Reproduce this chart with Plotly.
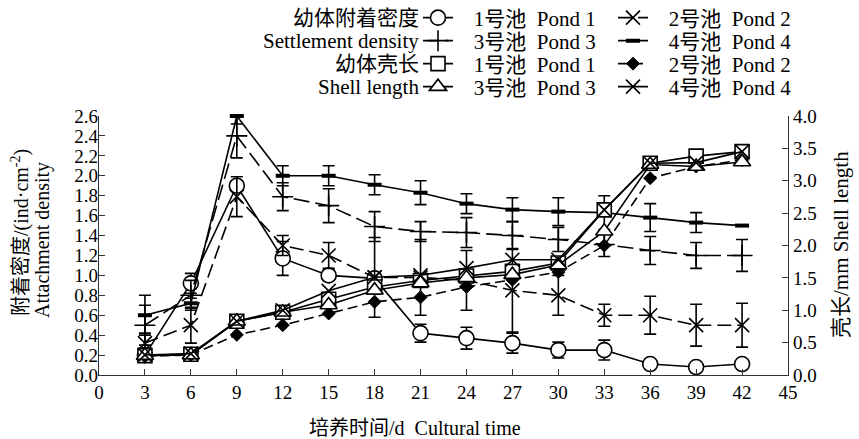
import plotly.graph_objects as go

# ---------------- data ----------------
days = [3, 6, 9, 12, 15, 18, 21, 24, 27, 30, 33, 36, 39, 42]
x_ticks = list(range(0, 46, 3))

dens_p1 = [0.20, 0.92, 1.90, 1.17, 1.00, 0.97, 0.42, 0.37, 0.32, 0.25, 0.25, 0.11, 0.08, 0.11]
dens_p1_err = [0.05, 0.10, 0.05, 0.17, 0.05, 0.05, 0.09, 0.11, 0.10, 0.08, 0.10, 0.0, 0.0, 0.0]
dens_p2 = [0.32, 0.50, 1.79, 1.30, 1.20, 0.98, 0.98, 0.95, 0.85, 0.80, 0.60, 0.60, 0.50, 0.50]
dens_p2_err = [0.10, 0.18, 0.20, 0.10, 0.13, 0.40, 0.38, 0.30, 0.42, 0.20, 0.11, 0.19, 0.21, 0.22]
dens_p3 = [0.50, 0.80, 2.40, 1.79, 1.70, 1.49, 1.44, 1.43, 1.40, 1.36, 1.31, 1.25, 1.20, 1.20]
dens_p3_err = [0.20, 0.15, 0.22, 0.14, 0.17, 0.15, 0.10, 0.15, 0.14, 0.12, 0.12, 0.14, 0.13, 0.16]
dens_p4 = [0.60, 0.72, 2.60, 2.00, 2.00, 1.91, 1.83, 1.72, 1.66, 1.64, 1.63, 1.58, 1.53, 1.50]
dens_p4_err = [0.20, 0.05, 0.08, 0.10, 0.10, 0.10, 0.12, 0.10, 0.12, 0.14, 0.17, 0.14, 0.10, 0.0]

shell_p1 = [0.30, 0.32, 0.83, 0.97, 1.17, 1.36, 1.46, 1.53, 1.60, 1.73, 2.55, 3.27, 3.38, 3.45]
shell_p2 = [0.29, 0.31, 0.62, 0.77, 0.95, 1.13, 1.20, 1.36, 1.47, 1.59, 2.00, 3.04, 3.22, 3.32]
shell_p3 = [0.30, 0.31, 0.83, 0.97, 1.08, 1.31, 1.42, 1.50, 1.55, 1.70, 2.22, 3.25, 3.22, 3.29]
shell_p4 = [0.31, 0.33, 0.83, 1.00, 1.30, 1.51, 1.54, 1.65, 1.78, 1.78, 2.55, 3.27, 3.28, 3.45]

NB = "\u00a0"
pond_names = [f"{NB*3}1号池{NB*2}Pond{NB}1", f"{NB*3}2号池{NB*2}Pond{NB}2",
              f"{NB*3}3号池{NB*2}Pond{NB}3", f"{NB*3}4号池{NB*2}Pond{NB}4"]
row_labels = ["幼体附着密度", "Settlement density", "幼体壳长", "Shell length"]
x_title = "培养时间/d\u00a0\u00a0Cultural time"
y_title_lines = ["附着密度/(ind·cm<sup>-2</sup>)", "Attachment density"]
y2_title = "壳长/mm Shell length"

# ---------------- layout helpers ----------------
W, H = 859, 439
L, R, T, B = 99, 788, 116, 375
FONT = "Liberation Serif, Noto Sans CJK SC, serif"
FS = 19
LFS = 21
LW = 1.6


def fx(px):
    return (px - L) / (R - L)


def fy(py):
    return (B - py) / (B - T)


fig = go.Figure()

row_y = [18, 41, 64, 87]
col_x = [418, 613]

dens_specs = [
    (dens_p1, dens_p1_err, pond_names[0], dict(symbol="circle", size=15, color="white", line=dict(color="black", width=LW)), "solid", (0, 0)),
    (dens_p2, dens_p2_err, pond_names[1], dict(symbol="x-thin-open", size=14, color="black", line=dict(color="black", width=LW)), "14px,6px", (0, 1)),
    (dens_p3, dens_p3_err, pond_names[2], dict(symbol="cross-thin-open", size=15, color="black", line=dict(color="black", width=LW)), "16px,6px", (1, 0)),
    (dens_p4, dens_p4_err, pond_names[3], dict(symbol="line-ew-open", size=10, color="black", line=dict(color="black", width=4)), "solid", (1, 1)),
]
shell_specs = [
    (shell_p1, pond_names[0], dict(symbol="square", size=14, color="white", line=dict(color="black", width=LW)), "solid", (2, 0)),
    (shell_p2, pond_names[1], dict(symbol="diamond", size=10, color="black", line=dict(color="black", width=1)), "10px,5px", (2, 1)),
    (shell_p3, pond_names[2], dict(symbol="triangle-up", size=15, color="white", line=dict(color="black", width=LW)), "solid", (3, 0)),
    (shell_p4, pond_names[3], dict(symbol="x-thin-open", size=14, color="black", line=dict(color="black", width=LW)), "solid", (3, 1)),
]

legends = {}
counter = [0]


def legend_key(rc):
    counter[0] += 1
    n = counter[0]
    key = "legend" if n == 1 else f"legend{n}"
    r, c = rc
    legends[key] = dict(
        x=fx(col_x[c]), y=fy(row_y[r]), xanchor="left", yanchor="middle",
        orientation="h", bgcolor="rgba(0,0,0,0)", borderwidth=0,
        font=dict(family=FONT, size=LFS, color="black"), itemwidth=30,
    )
    return key


for vals, err, name, marker, dash, rc in dens_specs:
    key = legend_key(rc)
    fig.add_trace(go.Scatter(
        x=days, y=vals, name=name, mode="lines+markers", yaxis="y",
        line=dict(color="black", width=LW, dash=dash), marker=marker,
        error_y=dict(type="data", array=err, visible=True, color="black", thickness=LW, width=6),
        legend=key, cliponaxis=False, showlegend=True,
    ))

for vals, name, marker, dash, rc in shell_specs:
    key = legend_key(rc)
    fig.add_trace(go.Scatter(
        x=days, y=vals, name=name, mode="lines+markers", yaxis="y2",
        line=dict(color="black", width=LW, dash=dash), marker=marker,
        legend=key, cliponaxis=False, showlegend=True,
    ))

annotations = []
for lab, ry in zip(row_labels, row_y):
    annotations.append(dict(text=lab, x=fx(421), y=fy(ry), xref="paper", yref="paper",
                            xanchor="right", yanchor="middle", showarrow=False,
                            font=dict(family=FONT, size=LFS, color="black")))
annotations.append(dict(text=x_title, x=fx(415), y=fy(428), xref="paper", yref="paper",
                        xanchor="center", yanchor="middle", showarrow=False,
                        font=dict(family=FONT, size=20, color="black")))
for txt, cx, cy in zip(y_title_lines, [20, 42], [233, 240]):
    annotations.append(dict(text=txt, x=fx(cx), y=fy(cy), xref="paper", yref="paper",
                            xanchor="center", yanchor="middle", showarrow=False, textangle=-90,
                            font=dict(family=FONT, size=20, color="black")))
annotations.append(dict(text=y2_title, x=fx(841), y=fy(245), xref="paper", yref="paper",
                        xanchor="center", yanchor="middle", showarrow=False, textangle=-90,
                        font=dict(family=FONT, size=21, color="black")))

axis_common = dict(showgrid=False, zeroline=False, showline=True, linecolor="#333",
                   linewidth=1.3, ticks="inside", ticklen=6, tickwidth=1.3, tickcolor="#333",
                   tickfont=dict(family=FONT, size=FS, color="black"))

fig.update_layout(
    width=W, height=H,
    margin=dict(l=L, r=W - R, t=T, b=H - B, autoexpand=False),
    paper_bgcolor="white", plot_bgcolor="white", showlegend=True,
    font=dict(family=FONT, size=FS, color="black"),
    xaxis=dict(range=[0, 45], tickvals=x_ticks, **axis_common),
    yaxis=dict(range=[0, 2.6], dtick=0.2, tick0=0, tickformat=".1f",
               ticklabelstandoff=-4, **axis_common),
    yaxis2=dict(range=[0, 4], dtick=0.5, tick0=0, tickformat=".1f", overlaying="y",
                side="right", **axis_common),
    annotations=annotations,
    **legends,
)

fig.write_html("out.html")
